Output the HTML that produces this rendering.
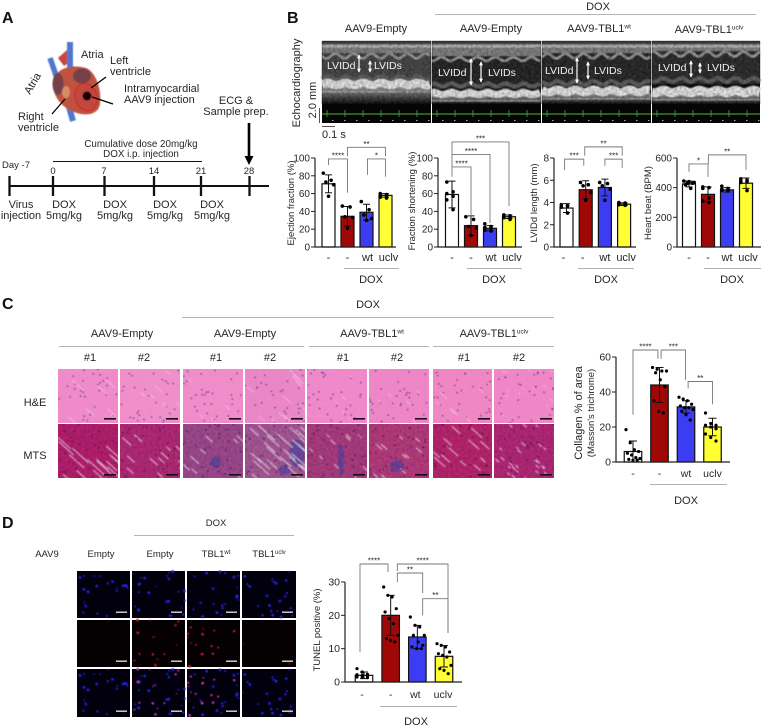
<!DOCTYPE html>
<html lang="en">
<head>
<meta charset="utf-8">
<title>Cardiac AAV9-TBL1 figure</title>
<style>
html,body{margin:0;padding:0;background:#fff;width:762px;height:727px;overflow:hidden}
svg{display:block}
text{font-family:"Liberation Sans",sans-serif;fill:#262626}
.p{font-size:16px;font-weight:bold;fill:#111}
.t{font-size:11px}
.s{font-size:9.5px}
.c{font-size:9.8px}
.m{text-anchor:middle}
.w{fill:#f0f0f0;font-size:10.5px}
.g{stroke:#b5b5b5;stroke-width:1;fill:none}
</style>
</head>
<body>
<svg id="figure" xmlns="http://www.w3.org/2000/svg" width="762" height="727" viewBox="0 0 762 727">
<defs>
<filter id="grain" x="0" y="0" width="100%" height="100%"><feTurbulence type="fractalNoise" baseFrequency="0.45" numOctaves="2" seed="4"/><feColorMatrix type="matrix" values="0 0 0 0 0  0 0 0 0 0  0 0 0 0 0  1.6 0 0 0 -0.55"/></filter>
<filter id="grainLight" x="0" y="0" width="100%" height="100%"><feTurbulence type="fractalNoise" baseFrequency="0.35 0.5" numOctaves="2" seed="9"/><feColorMatrix type="matrix" values="0 0 0 0 1  0 0 0 0 1  0 0 0 0 1  1.8 0 0 0 -0.7"/></filter>
<filter id="soft" x="-5%" y="-5%" width="110%" height="110%"><feGaussianBlur stdDeviation="0.45"/></filter>
<linearGradient id="fade" x1="0" y1="0" x2="0" y2="1"><stop offset="0" stop-color="#a0a0a0"/><stop offset="0.5" stop-color="#5a5a5a"/><stop offset="1" stop-color="#050505"/></linearGradient>
<marker id="ah" viewBox="0 0 6 6" refX="5" refY="3" markerWidth="3.4" markerHeight="3.4" orient="auto-start-reverse"><path d="M0 0L6 3L0 6z" fill="#fff"/></marker>
</defs>

<!-- Panel A -->
<g id="panel-a">
<text class="p" x="2" y="23">A</text>
<g filter="url(#soft)">
<path d="M58 58 L64 66 L72 60 L67 50 Z" fill="#c9453c"/>
<path d="M50 58 L59 84" stroke="#4f78cc" stroke-width="5.500" fill="none"/>
<path d="M70 42 L70 72" stroke="#4f78cc" stroke-width="6" fill="none"/>
<path d="M67 100 L73 121" stroke="#4f78cc" stroke-width="6" fill="none"/>
<path d="M54 80 C56 68 72 64 86 68 C96 72 102 90 100 104 C98 116 84 116 74 112 C62 108 50 94 54 80Z" fill="#bd5240"/>
<ellipse cx="58" cy="84" rx="5.500" ry="11" fill="#74404a"/>
<ellipse cx="82" cy="76" rx="9" ry="7.500" fill="#74404a"/>
<ellipse cx="66" cy="92" rx="4" ry="6" fill="#d68a66"/>
<ellipse cx="86" cy="97" rx="11" ry="14" fill="#c2463c" stroke="#d41a1a" stroke-width="1" transform="rotate(-18 86 97)"/>
<circle cx="87" cy="96" r="4.500" fill="#1c0205"/>
</g>
<path d="M91 88L106 77M92 97L113 104M52 114L65 99" stroke="#000" stroke-width="1.300" fill="none"/>
<text class="t" x="81" y="58">Atria</text>
<text class="t" x="0" y="0" transform="translate(30 95) rotate(-60)">Atria</text>
<text class="t" x="110" y="64">Left</text>
<text class="t" x="110" y="75">ventricle</text>
<text class="t" x="124" y="92">Intramyocardial</text>
<text class="t" x="124" y="103">AAV9 injection</text>
<text class="t" x="18" y="120">Right</text>
<text class="t" x="18" y="131">ventricle</text>
<text class="t m" x="236" y="104">ECG &amp;</text>
<text class="t m" x="236" y="115">Sample prep.</text>
<path d="M249 123V158" stroke="#000" stroke-width="2.600"/>
<path d="M244.500 156H253.500L249 165Z" fill="#000"/>
<text class="c m" x="141" y="147">Cumulative dose 20mg/kg</text>
<text class="c m" x="141" y="157">DOX i.p. injection</text>
<path d="M53 161.500H202" stroke="#111" stroke-width="1"/>
<text class="s" x="2" y="168">Day -7</text>
<text class="s m" x="53" y="174">0</text>
<text class="s m" x="104" y="174">7</text>
<text class="s m" x="154" y="174">14</text>
<text class="s m" x="201" y="174">21</text>
<text class="s m" x="249" y="174">28</text>
<path d="M9 186H269" stroke="#111" stroke-width="2"/>
<path d="M9.500 176V196M53 176V196M104.500 176V196M154 176V196M201 176V196M249.500 176V196" stroke="#111" stroke-width="2.300"/>
<text class="t m" x="21" y="208">Virus</text>
<text class="t m" x="21" y="219">injection</text>
<text class="t m" x="64" y="208">DOX</text>
<text class="t m" x="64" y="219">5mg/kg</text>
<text class="t m" x="115" y="208">DOX</text>
<text class="t m" x="115" y="219">5mg/kg</text>
<text class="t m" x="165" y="208">DOX</text>
<text class="t m" x="165" y="219">5mg/kg</text>
<text class="t m" x="212" y="208">DOX</text>
<text class="t m" x="212" y="219">5mg/kg</text>
</g>

<!-- Panel B labels -->
<g id="panel-b">
<text class="p" x="287" y="23">B</text>
<text class="t m" x="598" y="10">DOX</text>
<path class="g" d="M435 14.500H756"/>
<text class="t m" x="376" y="32">AAV9-Empty</text>
<text class="t m" x="491" y="32">AAV9-Empty</text>
<text class="t m" x="599" y="32">AAV9-TBL1<tspan font-size="6.500" dy="-3.500">wt</tspan></text>
<text class="t m" x="709" y="33">AAV9-TBL1<tspan font-size="6.500" dy="-3.500">uclv</tspan></text>
<g id="echo-panels"></g>
<text class="t m" transform="translate(300 83) rotate(-90)">Echocardiography</text>
<text class="t m" transform="translate(316 100) rotate(-90)">2.0 mm</text>
<path d="M319.500 108V123" stroke="#555" stroke-width="1"/>
<path d="M322 126.500H335" stroke="#555" stroke-width="1"/>
<text class="t" x="322" y="138">0.1 s</text>
</g>

<!-- Panel C labels -->
<g id="panel-c">
<text class="p" x="2" y="309">C</text>
<text class="t m" x="368" y="308">DOX</text>
<path class="g" d="M182 317.500H554"/>
<text class="t m" x="122" y="337">AAV9-Empty</text>
<text class="t m" x="245" y="337">AAV9-Empty</text>
<text class="t m" x="372" y="337">AAV9-TBL1<tspan font-size="6.500" dy="-3.500">wt</tspan></text>
<text class="t m" x="494" y="337">AAV9-TBL1<tspan font-size="6.500" dy="-3.500">uclv</tspan></text>
<path class="g" d="M59 346.500H304M309 346.500H429M433 346.500H554"/>
<text class="t m" x="90" y="361">#1</text>
<text class="t m" x="144" y="361">#2</text>
<text class="t m" x="216" y="361">#1</text>
<text class="t m" x="270" y="361">#2</text>
<text class="t m" x="343" y="361">#1</text>
<text class="t m" x="397" y="361">#2</text>
<text class="t m" x="464" y="361">#1</text>
<text class="t m" x="519" y="361">#2</text>
<text class="t m" x="35" y="406">H&amp;E</text>
<text class="t m" x="35" y="459">MTS</text>
<g id="histology-panels"></g>
<text class="t m" transform="translate(582 413) rotate(-90)">Collagen  % of area</text>
<text class="s m" font-size="9" transform="translate(594 413) rotate(-90)">(Masson's trichrome)</text>
</g>

<!-- Panel D labels -->
<g id="panel-d">
<text class="p" x="2" y="528">D</text>
<text class="s m" x="216" y="526">DOX</text>
<path class="g" d="M134 535.500H294" stroke="#777"/>
<text class="s m" x="47" y="557">AAV9</text>
<text class="s m" x="101" y="557">Empty</text>
<text class="s m" x="160" y="557">Empty</text>
<text class="s m" x="216" y="557">TBL1<tspan font-size="6" dy="-3">wt</tspan></text>
<text class="s m" x="269" y="557">TBL1<tspan font-size="6" dy="-3">uclv</tspan></text>
<g id="tunel-panels"></g>
</g>

<g id="charts"></g>
</svg>

<script>
// ---------- chart data ----------
const categories = ['-', '-', 'wt', 'uclv'];
const barColors = ['#ffffff', '#a00808', '#3c3cf2', '#ffff33'];

const efTicks = [0, 20, 40, 60, 80, 100];
const efMeans = [71, 34.500, 39, 58];
const efErrors = [10, 11, 9, 2];
const efPoints = [[83, 75, 73, 70, 57], [46, 45, 34, 33, 21], [51, 42, 36, 32, 30], [60, 59, 58, 57, 56, 55]];
const efBrackets = [[0, 1, 92, 99, 61, '****'], [1, 3, 102, 112, 102, '**'], [2.05, 3, 81, 99, 79, '*']];

const fsTicks = [0, 20, 40, 60, 80, 100];
const fsMeans = [59, 24, 21, 34];
const fsErrors = [15, 11, 3, 2];
const fsPoints = [[73, 62, 60, 57, 53, 42], [34, 31, 23, 21, 13], [26, 23, 22, 21, 19, 18], [36, 35, 34, 33, 33, 31]];
const fsBrackets = [[0, 1, 79, 90, 34, '****'], [0, 2, 90, 104, 27, '****'], [0, 3, 104, 118, 46, '***']];

const lvTicks = [0, 2, 4, 6, 8];
const lvMeans = [3.500, 5.150, 5.350, 3.850];
const lvErrors = [0.400, 0.800, 0.750, 0.120];
const lvPoints = [[3.800, 3.700, 3.600, 3.700, 3.600, 3.050], [5.800, 5.600, 5.500, 4.900, 4.200], [5.800, 5.700, 5.500, 5.200, 4.200], [4, 3.950, 3.900, 3.850, 3.800, 3.750]];
const lvBrackets = [[-0.100, 0.900, 6.900, 7.900, 7.300, '***'], [0.950, 2.900, 8.200, 9, 8.200, '**'], [2, 2.900, 7.300, 7.900, 7.100, '***']];

const hbTicks = [0, 200, 400, 600];
const hbMeans = [425, 355, 385, 430];
const hbErrors = [20, 50, 15, 35];
const hbPoints = [[445, 440, 435, 430, 430, 420, 395], [405, 400, 395, 330, 310, 300], [410, 395, 390, 385, 380, 380], [460, 450, 445, 440, 435, 380]];
const hbBrackets = [[0, 1, 507, 560, 473, '*'], [1.020, 3, 560, 621, 520, '**']];

const colTicks = [0, 20, 40, 60];
const colMeans = [6, 44, 31.500, 20];
const colErrors = [6, 10, 3.500, 5];
const colPoints = [[18.500, 11, 7, 6, 5, 4, 2.500, 2, 1.500, 1, 1], [54, 53, 52, 52, 51, 47, 43, 35, 29, 28], [37, 36, 35, 33, 32, 31, 31, 30, 29, 27, 24], [28, 22, 21, 21, 20, 19, 16, 14, 12]];
const colBrackets = [[0, 0.940, 27, 64, 59, '****'], [1.060, 1.980, 59, 64, 47, '***'], [2.080, 3, 42, 46, 33, '**']];

const tuTicks = [0, 10, 20, 30];
const tuMeans = [2, 20, 13.500, 7.700];
const tuErrors = [1, 6, 3.500, 3.200];
const tuPoints = [[4, 3, 2.300, 2.200, 2, 1.800, 1.500, 1.500, 1.300], [28.500, 26, 25.500, 22, 21, 19, 17.500, 14, 13, 12.500, 12], [19.500, 17, 16.500, 14, 14, 12, 11, 10.500, 10, 10], [11.500, 11, 10.500, 9, 8.500, 8, 7.500, 5, 4, 3.500, 2.500]];
const tuBrackets = [[-0.150, 0.900, 9, 35.400, 33, '****'], [1.250, 3.150, 33.300, 35.400, 14.700, '****'], [1.250, 2.200, 30, 32.700, 26.700, '**'], [2.200, 3.150, 20, 25, 14.700, '**']];

// ---------- helpers ----------
const NS = 'http://www.w3.org/2000/svg';
function mk(tag, attrs, parent) {
  const el = document.createElementNS(NS, tag);
  for (const k in attrs) el.setAttribute(k, attrs[k]);
  parent.appendChild(el);
  return el;
}
let seed = 12345;
function rnd() { seed = (seed * 1103515245 + 12345) & 0x7fffffff; return seed / 0x7fffffff; }

// ---------- chart renderer ----------
function drawChart(id, L, ticks, means, errors, points, brackets) {
  const root = document.getElementById('charts');
  const g = mk('g', {}, root);
  
  
  const maxTick = ticks[ticks.length - 1];
  const yScale = v => L.y0 - (v / maxTick) * (L.y0 - L.yTop);
  const xScale = i => L.c0 + i * L.step;
  const bw = L.bw;

  means.forEach((m, i) => {
    const bar = mk('rect', {x: xScale(i) - bw / 2, y: yScale(m), width: bw, height: L.y0 - yScale(m), fill: barColors[i], stroke: '#111', 'stroke-width': 1.200}, g);
    
    
  });
  means.forEach((m, i) => {
    const cx = xScale(i), cap = L.cap;
    const eb = mk('path', {d: 'M' + cx + ' ' + yScale(m + errors[i]) + 'V' + yScale(m - errors[i]) + 'M' + (cx - cap) + ' ' + yScale(m + errors[i]) + 'h' + (2 * cap) + 'M' + (cx - cap) + ' ' + yScale(m - errors[i]) + 'h' + (2 * cap), stroke: '#111', 'stroke-width': 1, fill: 'none'}, g);
    
    
    const n = points[i].length;
    points[i].forEach((v, k) => {
      const dx = ((k * 3) % n / Math.max(1, n - 1) - 0.5) * bw * 0.8;
      const p = mk('circle', {cx: cx + dx, cy: yScale(v), r: L.r, fill: '#000'}, g);
      
      
    });
  });

  const axis = mk('path', {d: 'M' + L.x0 + ' ' + yScale(maxTick) + 'V' + L.y0 + 'H' + L.right, stroke: '#222', 'stroke-width': 1.200, fill: 'none'}, g);
  
  
  ticks.forEach(t => {
    const tk = mk('path', {d: 'M' + (L.x0 - 4) + ' ' + yScale(t) + 'H' + L.x0, stroke: '#222', 'stroke-width': 1}, g);
    
    
    const lb = mk('text', {x: L.x0 - 5, y: yScale(t) + 3.500, 'text-anchor': 'end', 'font-size': L.tickFont}, g);
    lb.textContent = t;
    
    
  });
  categories.forEach((c, i) => {
    const tx = mk('text', {x: xScale(i) + (L.catDx ? L.catDx[i] : 0), y: L.catY, 'text-anchor': 'middle', 'font-size': L.catFont}, g);
    tx.textContent = c;
    
    
  });
  const dl = mk('path', {d: 'M' + L.doxX1 + ' ' + L.doxLineY + '.5H' + L.doxX2, stroke: '#b0b0b0', 'stroke-width': 1}, g);
  
  
  const dt = mk('text', {x: L.doxX, y: L.doxY, 'text-anchor': 'middle', 'font-size': 11}, g);
  dt.textContent = 'DOX';
  
  
  if (L.yTitle) {
    const yt = mk('text', {transform: 'translate(' + L.yTitleX + ' ' + L.yTitleY + ') rotate(-90)', 'text-anchor': 'middle', 'font-size': L.yTitleFont}, g);
    yt.textContent = L.yTitle;
    
    
  }
  brackets.forEach(b => {
    const xa = xScale(b[0]), xb = xScale(b[1]), top = yScale(b[3]);
    const br = mk('path', {d: 'M' + xa + ' ' + yScale(b[2]) + 'V' + top + 'H' + xb + 'V' + yScale(b[4]), stroke: '#777', 'stroke-width': 0.900, fill: 'none'}, g);
    
    
    const st = mk('text', {x: (xa + xb) / 2, y: top - 0.500, 'text-anchor': 'middle', 'font-size': 8}, g);
    st.textContent = b[5];
    
    
  });
}

const bBase = {y0: 247, yTop: 158, step: 19, bw: 13, cap: 3.500, r: 1.800, tickFont: 10, catFont: 11, catY: 261, doxLineY: 268, doxY: 283, yTitleFont: 9.500};
drawChart('ejection-fraction', Object.assign({}, bBase, {x0: 315, right: 396, c0: 328.500, yTitle: 'Ejection fraction (%)', yTitleX: 294, yTitleY: 203, doxX1: 344, doxX2: 399, doxX: 371, catDx: [0, 0, 1, 3]}), efTicks, efMeans, efErrors, efPoints, efBrackets);
drawChart('fraction-shortening', Object.assign({}, bBase, {x0: 438, right: 522, c0: 452, yTitle: 'Fraction shortening (%)', yTitleX: 415, yTitleY: 201, doxX1: 467, doxX2: 522, doxX: 494, catDx: [0, 0, 1, 3]}), fsTicks, fsMeans, fsErrors, fsPoints, fsBrackets);
drawChart('lvidd-length', Object.assign({}, bBase, {x0: 554, right: 636, c0: 566.500, step: 19.200, yTitle: 'LVIDd length (mm)', yTitleX: 537, yTitleY: 203, doxX1: 578, doxX2: 634, doxX: 606, catDx: [-3, -3, 0, 2]}), lvTicks, lvMeans, lvErrors, lvPoints, lvBrackets);
drawChart('heart-beat', Object.assign({}, bBase, {x0: 677, right: 761, c0: 689, yTitle: 'Heart beat (BPM)', yTitleX: 651, yTitleY: 203, doxX1: 704, doxX2: 761, doxX: 732, catDx: [0, 0, 0, 2]}), hbTicks, hbMeans, hbErrors, hbPoints, hbBrackets);
drawChart('collagen', {x0: 616, right: 730, y0: 462, yTop: 357, c0: 633, step: 26.500, bw: 17.500, cap: 4, r: 1.600, tickFont: 10.500, catFont: 10.500, catY: 477, doxLineY: 484, doxX1: 650, doxX2: 727, doxX: 686, doxY: 504}, colTicks, colMeans, colErrors, colPoints, colBrackets);
drawChart('tunel', {x0: 345, right: 462, y0: 682, yTop: 582, c0: 364, step: 26.670, bw: 17.500, cap: 4, r: 1.600, tickFont: 10.500, catFont: 10.500, catY: 698, doxLineY: 706, doxX1: 380, doxX2: 457, doxX: 416, doxY: 725, yTitle: 'TUNEL positive (%)', yTitleX: 320, yTitleY: 630, yTitleFont: 9.500, catDx: [-2, 0, -2, -1]}, tuTicks, tuMeans, tuErrors, tuPoints, tuBrackets);

// ---------- echocardiography texture panels ----------
const echoLayouts = [
  {x: 322, w: 109, top: 57, bot: 78, band1: 80, band2: 88, lumen: '#444444', amp: 2.500, lx: 327, ly: 69, rx: 374, ry: 69, a1: [359, 55, 72], a2: [370, 61, 72]},
  {x: 432, w: 109, top: 60, bot: 85, band1: 90, band2: 97, lumen: '#222222', amp: 2, lx: 438, ly: 76, rx: 488, ry: 76, a1: [471, 59, 85], a2: [481, 62, 82]},
  {x: 542, w: 109, top: 57, bot: 83, band1: 87, band2: 95, lumen: '#262626', amp: 2.500, lx: 545, ly: 74, rx: 594, ry: 74, a1: [577, 58, 83], a2: [588, 62, 79]},
  {x: 652, w: 108, top: 55, bot: 80, band1: 87, band2: 96, lumen: '#2a2a2a', amp: 2.500, lx: 658, ly: 71, rx: 707, ry: 71, a1: [691, 61, 77], a2: [700, 63, 73]}
];
(function () {
  const host = document.getElementById('echo-panels');
  function wave(x, w, y, amp, phase) {
    let d = '';
    for (let i = 0; i <= w; i += 2) d += (i ? 'L' : 'M') + (x + i) + ' ' + (y + amp * Math.sin((i + phase) * 2 * Math.PI / 18)).toFixed(1);
    return d;
  }
  echoLayouts.forEach((p, idx) => {
    const g = mk('g', {}, host);
    
    
    const cv = mk('rect', {x: p.x, y: 41, width: p.w, height: 82, fill: '#050505'}, g);
    
    
    const tx = mk('g', {filter: 'url(#soft)'}, g);
    
    
    mk('rect', {x: p.x, y: 41, width: p.w, height: 3, fill: '#3a3a3a'}, tx);
    mk('rect', {x: p.x, y: 44, width: p.w, height: p.top - 44, fill: '#808080'}, tx);
    mk('rect', {x: p.x, y: 45, width: p.w, height: 2.500, fill: '#b8b8b8'}, tx);
    mk('rect', {x: p.x, y: p.top - 4, width: p.w, height: p.bot - p.top + 8, fill: p.lumen}, tx);
    mk('path', {d: wave(p.x, p.w, p.top - 1, p.amp, idx * 4), stroke: '#999', 'stroke-width': 2.500, fill: 'none'}, tx);
    mk('path', {d: wave(p.x, p.w, p.bot, p.amp * 0.8, idx * 4 + 8), stroke: '#5e5e5e', 'stroke-width': 4, fill: 'none'}, tx);
    mk('rect', {x: p.x, y: p.band2 - 2, width: p.w, height: 106 - p.band2, fill: 'url(#fade)'}, tx);
    mk('path', {d: wave(p.x, p.w, (p.band1 + p.band2) / 2, p.amp * 0.5, idx * 4 + 8), stroke: '#e8e8e8', 'stroke-width': p.band2 - p.band1, fill: 'none'}, tx);
    mk('rect', {x: p.x, y: p.band2 + 3, width: p.w, height: 1.500, fill: '#bdbdbd', opacity: 0.7}, tx);
    mk('rect', {x: p.x, y: 44, width: p.w, height: 60, filter: 'url(#grain)', opacity: 0.5}, tx);
    mk('rect', {x: p.x, y: 44, width: p.w, height: 60, filter: 'url(#grainLight)', opacity: 0.15}, tx);
    const ecg = mk('path', {d: 'M' + p.x + ' 114H' + (p.x + p.w), stroke: '#4f8a30', 'stroke-width': 1.300}, g);
    
    
    let beats = '';
    for (let i = 5; i < p.w; i += 18) beats += 'M' + (p.x + i) + ' 110V117';
    const bt = mk('path', {d: beats, stroke: '#3fae3f', 'stroke-width': 0.800}, g);
    
    
    let dots = '';
    for (let i = 10; i < p.w; i += 12) dots += 'M' + (p.x + i) + ' 120.500h1.500';
    const dm = mk('path', {d: dots, stroke: '#aaa', 'stroke-width': 1}, g);
    
    
    const t1 = mk('text', {x: p.lx, y: p.ly, class: 'w'}, g);
    t1.textContent = 'LVIDd';
    
    
    const t2 = mk('text', {x: p.rx, y: p.ry, class: 'w'}, g);
    t2.textContent = 'LVIDs';
    
    
    [p.a1, p.a2].forEach(a => {
      const ar = mk('path', {d: 'M' + a[0] + ' ' + a[1] + 'V' + a[2], stroke: '#fff', 'stroke-width': 1.200, 'marker-start': 'url(#ah)', 'marker-end': 'url(#ah)'}, g);
      
      
    });
  });
})();

// ---------- histology texture panels ----------
const histoColumns = [[58, 60], [120, 60], [183, 60], [245, 60], [307, 60], [369, 60], [433, 59], [494, 60]];
const heColors = ['#f28ccb', '#f290cc', '#f28ecb', '#ec88c8', '#f28acc', '#f088c8', '#f288c6', '#f288c8'];
const mtsColors = ['#b81f70', '#b52a78', '#a04a90', '#a85898', '#ad3d82', '#b83c80', '#bb2570', '#b5287a'];
const streakCounts = [8, 6, 4, 12, 5, 5, 6, 14];
const streakLengths = [13, 7, 7, 12, 4, 5, 8, 3];
const blueSpots = [[], [], [[216, 462, 5, 6]], [[297, 453, 8, 14], [285, 470, 6, 5]], [[341, 460, 3, 16]], [[397, 466, 7, 6]], [], []];
(function () {
  const host = document.getElementById('histology-panels');
  const defs = document.querySelector('defs');
  histoColumns.forEach((c, i) => {
    [[369, 54, heColors[i], 'he', 418], [424, 54, mtsColors[i], 'mts', 474]].forEach((r, ri) => {
      const clipId = 'hc' + i + ri;
      const cp = mk('clipPath', {id: clipId}, defs);
      mk('rect', {x: c[0], y: r[0], width: c[1], height: r[1]}, cp);
      const g = mk('g', {'clip-path': 'url(#' + clipId + ')'}, host);
      
      
      const bg = mk('rect', {x: c[0], y: r[0], width: c[1], height: r[1], fill: r[2]}, g);
      
      
      const tex = mk('g', {filter: 'url(#soft)'}, g);
      
      
      if (ri === 1) blueSpots[i].forEach(s => mk('ellipse', {cx: s[0], cy: s[1], rx: s[2], ry: s[3], fill: '#4c44a8', opacity: 0.65}, tex));
      const n = streakCounts[i] * (ri ? 2 : 1);
      for (let k = 0; k < n; k++) {
        const sx = c[0] + rnd() * c[1], sy = r[0] + rnd() * r[1], len = streakLengths[i] * (0.6 + rnd() * 0.8) * (ri ? 1 : 0.7);
        mk('path', {d: 'M' + sx + ' ' + sy + 'l' + len + ' ' + (len * 0.9), stroke: '#fff', 'stroke-width': ri ? 1 : 0.7, opacity: ri ? 0.7 : 0.45}, tex);
      }
      for (let k = 0; k < 30; k++) {
        mk('circle', {cx: c[0] + rnd() * c[1], cy: r[0] + rnd() * r[1], r: 0.7, fill: ri ? '#3a1050' : '#4a2a80'}, tex);
      }
      mk('rect', {x: c[0], y: r[0], width: c[1], height: r[1], filter: 'url(#grain)', opacity: ri ? 0.3 : 0.04}, tex);
      const sb = mk('rect', {x: c[0] + c[1] - 14, y: r[4], width: 12, height: 1.600, fill: '#1a0a1a'}, g);
      
      
    });
  });
})();

// ---------- TUNEL fluorescence panels ----------
const tunelColumns = [[77, 53], [132, 53], [187, 53], [242, 54]];
const tunelRows = [[571, 47], [620, 47], [669, 48]];
const redCounts = [2, 14, 14, 3];
const redOpacity = [0.25, 0.9, 1, 0.3];
(function () {
  const host = document.getElementById('tunel-panels');
  tunelColumns.forEach((c, ci) => {
    const blueDots = [], redDots = [];
    for (let k = 0; k < 22; k++) blueDots.push([rnd() * c[1], rnd() * 47, 0.8 + rnd() * 0.8]);
    for (let k = 0; k < redCounts[ci]; k++) redDots.push([rnd() * c[1], rnd() * 47, 0.7 + rnd() * 0.8]);
    tunelRows.forEach((r, ri) => {
      const g = mk('g', {}, host);
      
      
      const bg = mk('rect', {x: c[0], y: r[0], width: c[1], height: r[1], fill: ri === 1 ? '#050002' : '#02000c'}, g);
      
      
      const dots = mk('g', {filter: 'url(#soft)'}, g);
      
      
      if (ri !== 1) blueDots.forEach(d => mk('circle', {cx: c[0] + d[0], cy: r[0] + d[1], r: d[2], fill: '#2222d0'}, dots));
      if (ri !== 0) redDots.forEach(d => mk('circle', {cx: c[0] + d[0], cy: r[0] + d[1], r: d[2], fill: ri === 1 ? '#c02038' : '#d038b0', opacity: redOpacity[ci]}, dots));
      const sb = mk('rect', {x: c[0] + c[1] - 14, y: r[0] + r[1] - 6.500, width: 11, height: 1.400, fill: '#d8d8d8'}, g);
      
      
    });
  });
})();
</script>
</body>
</html>
